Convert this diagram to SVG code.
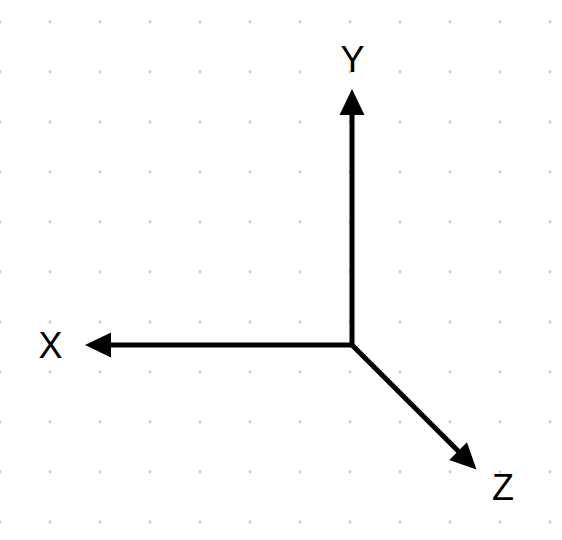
<svg xmlns="http://www.w3.org/2000/svg" width="562" height="540" viewBox="0 0 562 540">
  <style>
    .axis { fill: none; stroke: #000; stroke-width: 5; stroke-linecap: round; }
    .lbl { font-family: "Liberation Sans", Arial, Helvetica, sans-serif; font-size: 36px; fill: #000; text-anchor: middle; }
  </style>
  <defs>
    <pattern id="dots" patternUnits="userSpaceOnUse" x="-25" y="-3.25" width="50" height="50">
      <circle cx="25" cy="25" r="1.5" fill="#c8c8c8"/>
    </pattern>
    <marker id="head" markerUnits="userSpaceOnUse" markerWidth="26" markerHeight="26" viewBox="0 -13 26 26" refX="0" refY="0" orient="auto" overflow="visible">
      <path d="M0,-12.5 L26,0 L0,12.5 Z" fill="#000"/>
    </marker>
  </defs>
  <rect x="0" y="0" width="562" height="540" fill="#fff"/>
  <rect x="0" y="0" width="562" height="540" fill="url(#dots)"/>
  <g id="connectors">
    <line class="axis" x1="352" y1="345" x2="352" y2="115" marker-end="url(#head)"/>
    <line class="axis" x1="352" y1="345" x2="111" y2="345" marker-end="url(#head)"/>
    <line class="axis" x1="352" y1="345" x2="458.1" y2="451.1" marker-end="url(#head)"/>
  </g>
  <g id="label-y"><text class="lbl" x="352.5" y="72">Y</text></g>
  <g id="label-x"><text class="lbl" x="50.5" y="358">X</text></g>
  <g id="label-z"><text class="lbl" x="503" y="500">Z</text></g>
</svg>
